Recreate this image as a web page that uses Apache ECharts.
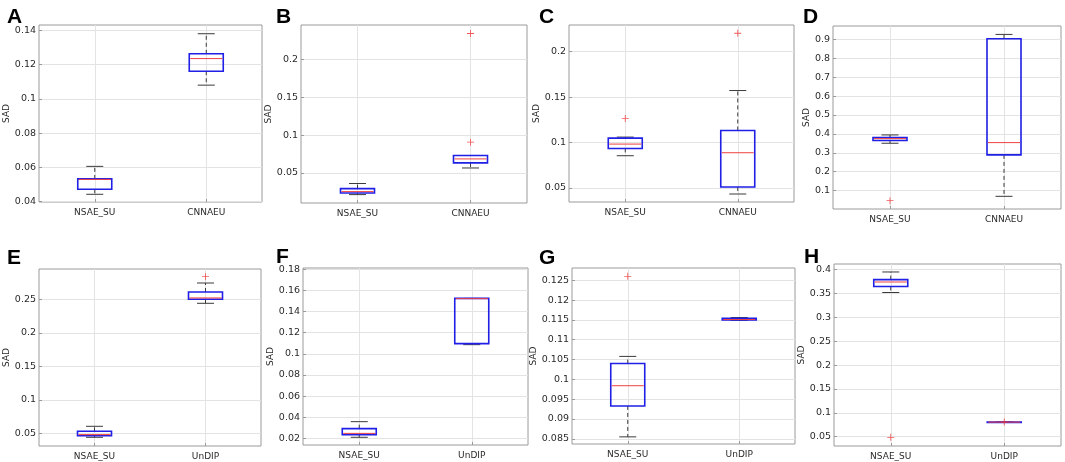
<!DOCTYPE html>
<html>
<head>
<meta charset="utf-8">
<script src="https://cdn.jsdelivr.net/npm/echarts@6/dist/echarts.min.js"></script>
<style>
  html, body { margin: 0; padding: 0; background: #fff; }
  #chart { width: 1065px; height: 462px; }
</style>
</head>
<body>
<div id="chart"></div>
<script>
// categories
const catsTop = ['NSAE_SU', 'CNNAEU']
const catsBottom = ['NSAE_SU', 'UnDIP']

// box stats: [low whisker, q1, median, q3, high whisker]
const statsA = [[0.0443, 0.0472, 0.0530, 0.0533, 0.0606], [0.1080, 0.1161, 0.1235, 0.1263, 0.1380]]
const statsB = [[0.0213, 0.0235, 0.0253, 0.0293, 0.0360], [0.0566, 0.0633, 0.0686, 0.0731, 0.0731]]
const statsC = [[0.0855, 0.0935, 0.0983, 0.1049, 0.1060], [0.0434, 0.0511, 0.0888, 0.1133, 0.1572]]
const statsD = [[0.3506, 0.3650, 0.3750, 0.3810, 0.3946], [0.0700, 0.2890, 0.3540, 0.9030, 0.9260]]
const statsE = [[0.0440, 0.0464, 0.0480, 0.0530, 0.0604], [0.2440, 0.2500, 0.2520, 0.2609, 0.2743]]
const statsF = [[0.0210, 0.0235, 0.0247, 0.0292, 0.0358], [0.1087, 0.1097, 0.1523, 0.1525, 0.1525]]
const statsG = [[0.0855, 0.0933, 0.0984, 0.1040, 0.1058], [0.1149, 0.1150, 0.1151, 0.1154, 0.1156]]
const statsH = [[0.3520, 0.3645, 0.3740, 0.3790, 0.3950], [0.0805, 0.0806, 0.0806, 0.0807, 0.0807]]

// outliers: [category index, value]
const outA = []
const outB = [[2, 0.0908], [2, 0.2347]]
const outC = [[1, 0.1264], [2, 0.2202]]
const outD = [[1, 0.0470]]
const outE = [[2, 0.2837]]
const outF = []
const outG = [[1, 0.1260]]
const outH = [[1, 0.0487], [2, 0.0806]]

// y tick labels
const ticksA = [0.04, 0.06, 0.08, 0.1, 0.12, 0.14]
const ticksB = [0.05, 0.1, 0.15, 0.2]
const ticksC = [0.05, 0.1, 0.15, 0.2]
const ticksD = [0.1, 0.2, 0.3, 0.4, 0.5, 0.6, 0.7, 0.8, 0.9]
const ticksE = [0.05, 0.1, 0.15, 0.2, 0.25]
const ticksF = [0.02, 0.04, 0.06, 0.08, 0.1, 0.12, 0.14, 0.16, 0.18]
const ticksG = [0.085, 0.09, 0.095, 0.1, 0.105, 0.11, 0.115, 0.12, 0.125]
const ticksH = [0.05, 0.1, 0.15, 0.2, 0.25, 0.3, 0.35, 0.4]

// y limits
const rangeA = [0.0398, 0.1431]
const rangeB = [0.0102, 0.2460]
const rangeC = [0.0346, 0.2293]
const rangeD = [0.003, 0.9705]
const rangeE = [0.0310, 0.2952]
const rangeF = [0.0137, 0.1813]
const rangeG = [0.0837, 0.1281]
const rangeH = [0.0306, 0.4117]

const panels = [
  { letter: 'A', cats: catsTop, stats: statsA, out: outA, ticks: ticksA, range: rangeA },
  { letter: 'B', cats: catsTop, stats: statsB, out: outB, ticks: ticksB, range: rangeB },
  { letter: 'C', cats: catsTop, stats: statsC, out: outC, ticks: ticksC, range: rangeC },
  { letter: 'D', cats: catsTop, stats: statsD, out: outD, ticks: ticksD, range: rangeD },
  { letter: 'E', cats: catsBottom, stats: statsE, out: outE, ticks: ticksE, range: rangeE },
  { letter: 'F', cats: catsBottom, stats: statsF, out: outF, ticks: ticksF, range: rangeF },
  { letter: 'G', cats: catsBottom, stats: statsG, out: outG, ticks: ticksG, range: rangeG },
  { letter: 'H', cats: catsBottom, stats: statsH, out: outH, ticks: ticksH, range: rangeH }
]

// layout of each panel (px)
const layout = [
  { left: 39, top: 25, width: 223, height: 177, nameGap: 23, lx: 2, ly: 2 },
  { left: 301, top: 25, width: 226, height: 178, nameGap: 21, lx: 271, ly: 2 },
  { left: 569, top: 25, width: 225, height: 177, nameGap: 24, lx: 534, ly: 2 },
  { left: 833, top: 26, width: 228, height: 183, nameGap: 20, lx: 798, ly: 2 },
  { left: 39, top: 269, width: 222, height: 177, nameGap: 24, lx: 2, ly: 243 },
  { left: 303, top: 268, width: 225, height: 177, nameGap: 24, lx: 271, ly: 242 },
  { left: 572, top: 268, width: 223, height: 176, nameGap: 25, lx: 534, ly: 243 },
  { left: 834, top: 264, width: 227, height: 182, nameGap: 22, lx: 799, ly: 242 }
]

const FONT = 'DejaVu Sans'
const BOX_W = 34
const CAP_W = 17

function renderBox(params, api) {
  const x = api.value(0)
  const lo = api.coord([x, api.value(1)])
  const q1 = api.coord([x, api.value(2)])
  const md = api.coord([x, api.value(3)])
  const q3 = api.coord([x, api.value(4)])
  const hi = api.coord([x, api.value(5)])
  const cx = lo[0]
  const whisker = { stroke: '#3a3a3a', lineWidth: 1, lineDash: [4, 3] }
  const cap = { stroke: '#3a3a3a', lineWidth: 1 }
  return {
    type: 'group',
    children: [
      { type: 'line', shape: { x1: cx, y1: q3[1], x2: cx, y2: hi[1] }, style: whisker },
      { type: 'line', shape: { x1: cx, y1: q1[1], x2: cx, y2: lo[1] }, style: whisker },
      { type: 'line', shape: { x1: cx - CAP_W / 2, y1: hi[1], x2: cx + CAP_W / 2, y2: hi[1] }, style: cap },
      { type: 'line', shape: { x1: cx - CAP_W / 2, y1: lo[1], x2: cx + CAP_W / 2, y2: lo[1] }, style: cap },
      { type: 'rect', shape: { x: cx - BOX_W / 2, y: q3[1], width: BOX_W, height: Math.max(q1[1] - q3[1], 0.5) },
        style: { fill: 'none', stroke: '#1f1fe6', lineWidth: 1.6 } },
      { type: 'line', shape: { x1: cx - BOX_W / 2 + 1, y1: md[1], x2: cx + BOX_W / 2 - 1, y2: md[1] },
        style: { stroke: '#f04040', lineWidth: 1 } }
    ]
  }
}

const grid = [], xAxis = [], yAxis = [], series = [], title = []
panels.forEach((p, i) => {
  const L = layout[i]
  grid.push({
    left: L.left, top: L.top, width: L.width, height: L.height,
    show: true, borderColor: '#9a9a9a', borderWidth: 1, backgroundColor: '#fff'
  })
  title.push({
    text: p.letter, left: L.lx, top: L.ly,
    textStyle: { fontFamily: 'Liberation Sans', fontWeight: 'bold', fontSize: 21, color: '#000' }
  })
  xAxis.push({
    type: 'value', gridIndex: i, min: 0.5, max: 2.5,
    axisLine: { show: false },
    axisTick: { show: true, inside: true, length: 3, customValues: [1, 2], lineStyle: { color: '#9a9a9a' } },
    axisLabel: {
      customValues: [1, 2], margin: 6, color: '#2a2a2a', fontFamily: FONT, fontSize: 9,
      formatter: v => p.cats[Math.round(v) - 1]
    },
    splitLine: { show: true, lineStyle: { color: '#e3e3e3', width: 1 } }
  })
  yAxis.push({
    type: 'value', gridIndex: i, min: p.range[0], max: p.range[1],
    name: 'SAD', nameLocation: 'middle', nameGap: L.nameGap, nameRotate: 90,
    nameTextStyle: { fontFamily: FONT, fontSize: 9, color: '#2a2a2a' },
    axisLine: { show: false },
    axisTick: { show: true, inside: true, length: 3, customValues: p.ticks, lineStyle: { color: '#9a9a9a' } },
    axisLabel: { customValues: p.ticks, margin: 3, color: '#2a2a2a', fontFamily: FONT, fontSize: 9.5 },
    splitLine: { show: true, lineStyle: { color: '#e3e3e3', width: 1 } }
  })
  series.push({
    type: 'custom', xAxisIndex: i, yAxisIndex: i,
    renderItem: renderBox,
    encode: { x: 0, y: [1, 2, 3, 4, 5] },
    data: p.stats.map((s, k) => [k + 1].concat(s)),
    z: 3
  })
  series.push({
    type: 'scatter', xAxisIndex: i, yAxisIndex: i,
    symbol: 'path://M4.4,0H5.6V4.4H10V5.6H5.6V10H4.4V5.6H0V4.4H4.4Z',
    symbolSize: 7,
    itemStyle: { color: '#f03030' },
    data: p.out,
    z: 4
  })
})

const chart = echarts.init(document.getElementById('chart'), null, { renderer: 'canvas' })
chart.setOption({
  animation: false,
  backgroundColor: '#fff',
  title, grid, xAxis, yAxis, series
})
</script>
</body>
</html>
